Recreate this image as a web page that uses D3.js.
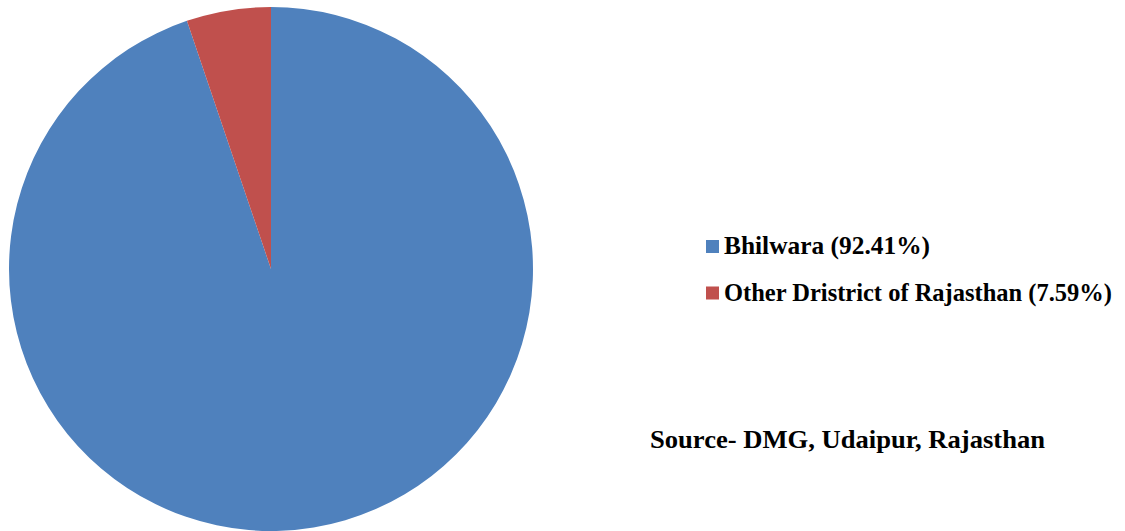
<!DOCTYPE html>
<html>
<head>
<meta charset="utf-8">
<title>Bhilwara share pie</title>
<script src="https://d3js.org/d3.v7.min.js"></script>
<style>
  body { margin: 0; background: #fff; }
</style>
</head>
<body>
<svg id="chart" width="1125" height="531"></svg>
<script>
// categories and the shares as drawn in the picture (legend keeps its own printed labels)
var categories = ["Bhilwara", "Other Dristrict of Rajasthan"];
var drawnShares = [94.8, 5.2];
var legendLabels = ["Bhilwara (92.41%)", "Other Dristrict of Rajasthan (7.59%)"];
var colors = ["#4F81BD", "#C0504D"];
var sourceNote = "Source- DMG, Udaipur, Rajasthan";

var serif = "'Liberation Serif', 'Times New Roman', serif";

var svg = d3.select("#chart");
var cx = 271, cy = 269, r = 262;

var data = categories.map(function (c, i) { return { name: c, value: drawnShares[i] }; });

// blue starts at 12 o'clock going clockwise, red ends back at 12
var pie = d3.pie().sort(null).value(function (d) { return d.value; });
var arc = d3.arc().innerRadius(0).outerRadius(r);

var g = svg.append("g").attr("transform", "translate(" + cx + "," + cy + ")");
g.selectAll("path")
  .data(pie(data))
  .enter().append("path")
  .attr("d", arc)
  .attr("fill", function (d, i) { return colors[i]; });

var legend = svg.append("g").attr("transform", "translate(706,240)");
var item = legend.selectAll("g")
  .data(legendLabels)
  .enter().append("g")
  .attr("transform", function (d, i) { return "translate(0," + (i * 46.5) + ")"; });
item.append("rect")
  .attr("width", 13).attr("height", 13)
  .attr("fill", function (d, i) { return colors[i]; });
item.append("text")
  .attr("x", 18).attr("y", 14)
  .attr("font-family", serif)
  .attr("font-weight", "bold")
  .attr("font-size", 25)
  .attr("textLength", function (d, i) { return i === 0 ? 206 : 388; })
  .attr("lengthAdjust", "spacingAndGlyphs")
  .text(function (d) { return d; });

svg.append("text")
  .attr("x", 650).attr("y", 448)
  .attr("font-family", serif)
  .attr("font-weight", "bold")
  .attr("font-size", 26)
  .attr("textLength", 395)
  .attr("lengthAdjust", "spacingAndGlyphs")
  .text(sourceNote);
</script>
</body>
</html>
